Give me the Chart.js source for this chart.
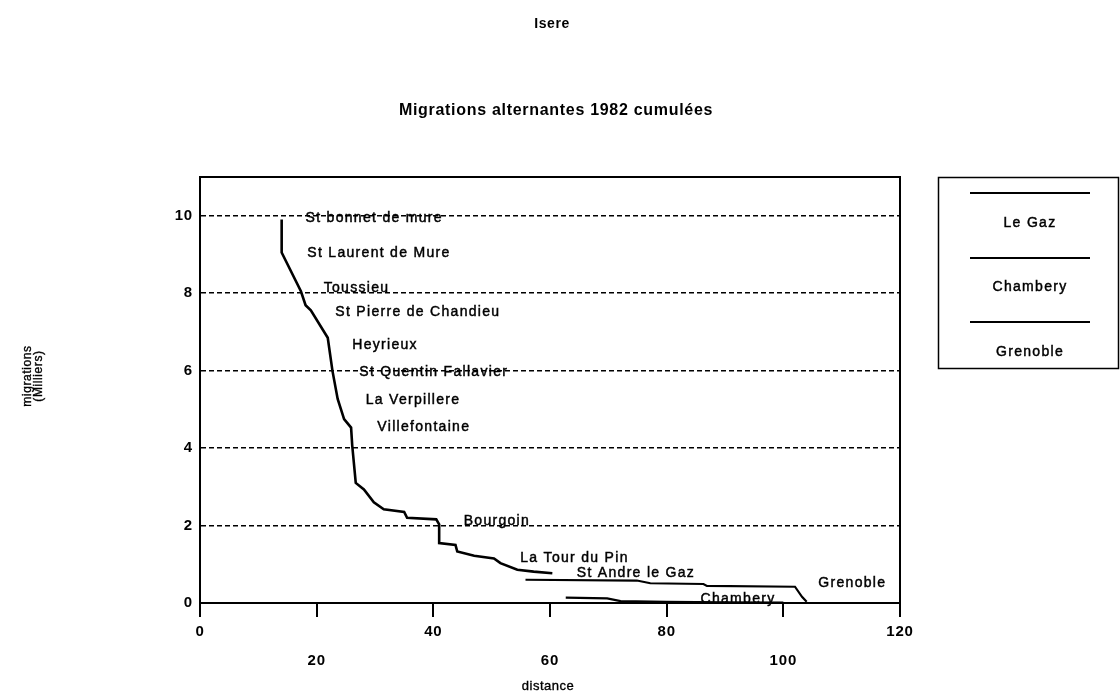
<!DOCTYPE html>
<html><head><meta charset="utf-8">
<script src="https://cdn.jsdelivr.net/npm/chart.js@4/dist/chart.umd.min.js"></script>
<style>html,body{margin:0;padding:0;background:#fff;}canvas{display:block;}</style>
</head><body>
<canvas id="c" width="1120" height="692"></canvas>
<script>
const chartTitle = 'Isere';
const chartSubtitle = 'Migrations alternantes 1982 cumulées';
const xAxisTitle = 'distance';
const yAxisTitle = ['migrations', '(Milliers)'];
const seriesNames = ['Le Gaz', 'Chambery', 'Grenoble'];

const xTicks = [0, 20, 40, 60, 80, 100, 120];
const yTicks = [0, 2, 4, 6, 8, 10];

const legazDistance   = [14.0, 14.0, 17.3, 18.1, 19.0, 21.9, 22.7, 23.6, 24.7, 25.9, 26.1, 26.7, 28.1, 29.8, 31.5, 35.0, 35.5, 40.5, 41.0, 41.0, 43.8, 44.1, 47.0, 50.4, 51.5, 54.4, 57.2, 60.4];
const legazMigrations = [9.9, 9.05, 8.05, 7.69, 7.56, 6.85, 6.0, 5.27, 4.75, 4.53, 4.06, 3.1, 2.93, 2.6, 2.42, 2.35, 2.2, 2.16, 2.03, 1.55, 1.5, 1.33, 1.22, 1.15, 1.03, 0.86, 0.81, 0.77];

const chamberyDistance   = [62.7, 69.8, 72.1, 80.0, 90.0, 100.0];
const chamberyMigrations = [0.14, 0.12, 0.05, 0.03, 0.02, 0.01];

const grenobleDistance   = [55.8, 74.9, 77.2, 86.3, 86.9, 102.0, 103.2, 104.0];
const grenobleMigrations = [0.6, 0.58, 0.51, 0.49, 0.44, 0.42, 0.16, 0.03];

const placeNames = ['St bonnet de mure', 'St Laurent de Mure', 'Toussieu', 'St Pierre de Chandieu', 'Heyrieux', 'St Quentin Fallavier', 'La Verpillere', 'Villefontaine', 'Bourgoin', 'La Tour du Pin', 'St Andre le Gaz', 'Grenoble', 'Chambery'];
const placeDistance   = [18.1, 18.4, 21.2, 23.2, 26.1, 27.3, 28.4, 30.4, 45.2, 54.9, 64.6, 106.0, 85.8];
const placeMigrations = [9.95, 9.04, 8.13, 7.52, 6.66, 5.97, 5.25, 4.54, 2.11, 1.16, 0.77, 0.51, 0.10];

const FONT = "'Liberation Sans', Arial, Helvetica, sans-serif";

function pts(xs, ys) { return xs.map((x, i) => ({ x: x, y: ys[i] })); }

function heavyText(ctx, s, x, y) {
  ctx.fillText(s, x, y);
  ctx.strokeText(s, x, y);
}

const decor = {
  id: 'decor',
  beforeDraw(chart) { chart.ctx.letterSpacing = '0.8px'; },
  afterDraw(chart) {
    const ctx = chart.ctx, a = chart.chartArea, xs = chart.scales.x, ys = chart.scales.y;
    ctx.save();
    ctx.strokeStyle = '#000';
    ctx.lineWidth = 2;
    ctx.beginPath();
    ctx.moveTo(a.left, a.top); ctx.lineTo(a.right, a.top); ctx.lineTo(a.right, a.bottom);
    ctx.stroke();

    ctx.fillStyle = '#000';
    ctx.font = '14px ' + FONT;
    ctx.letterSpacing = '1.3px';
    ctx.textAlign = 'left';
    ctx.textBaseline = 'middle';
    ctx.lineWidth = 0.45;
    placeNames.forEach((n, i) => {
      heavyText(ctx, n, xs.getPixelForValue(placeDistance[i]), ys.getPixelForValue(placeMigrations[i]));
    });

    ctx.textAlign = 'center';
    ctx.font = 'bold 14px ' + FONT;
    ctx.letterSpacing = '0.6px';
    ctx.fillText(chartTitle, 552, 24);
    ctx.font = 'bold 16px ' + FONT;
    ctx.letterSpacing = '0.7px';
    ctx.fillText(chartSubtitle, 556, 111);

    ctx.font = '13px ' + FONT;
    ctx.letterSpacing = '0.5px';
    ctx.lineWidth = 0.35;
    heavyText(ctx, xAxisTitle, 548, 686);
    ctx.font = '12px ' + FONT;
    ctx.letterSpacing = '0.6px';
    ctx.save();
    ctx.translate(28, 376);
    ctx.rotate(-Math.PI / 2);
    heavyText(ctx, yAxisTitle[0], 0, 0);
    heavyText(ctx, yAxisTitle[1], 0, 11);
    ctx.restore();

    // legend box
    ctx.lineWidth = 1.5;
    ctx.strokeRect(938.5, 177.5, 180, 191);
    const lineYs = [193, 258, 322], textYs = [223, 287, 352];
    ctx.font = '14px ' + FONT;
    ctx.letterSpacing = '1.3px';
    chart.data.datasets.forEach((ds, i) => {
      ctx.lineWidth = 2;
      ctx.beginPath(); ctx.moveTo(970, lineYs[i]); ctx.lineTo(1090, lineYs[i]); ctx.stroke();
      ctx.lineWidth = 0.45;
      heavyText(ctx, ds.label, 1030, textYs[i]);
    });
    ctx.restore();
    ctx.letterSpacing = '0px';
  }
};

new Chart(document.getElementById('c'), {
  type: 'scatter',
  data: {
    datasets: [
      { label: seriesNames[0], data: pts(legazDistance, legazMigrations), showLine: true, borderColor: '#000', borderWidth: 2.6, pointRadius: 0, tension: 0 },
      { label: seriesNames[1], data: pts(chamberyDistance, chamberyMigrations), showLine: true, borderColor: '#000', borderWidth: 2.2, pointRadius: 0, tension: 0 },
      { label: seriesNames[2], data: pts(grenobleDistance, grenobleMigrations), showLine: true, borderColor: '#000', borderWidth: 2.2, pointRadius: 0, tension: 0 }
    ]
  },
  options: {
    responsive: false,
    animation: false,
    layout: { padding: { left: 0, right: 220, top: 177, bottom: 0 } },
    plugins: { legend: { display: false }, tooltip: { enabled: false }, title: { display: false } },
    scales: {
      x: {
        type: 'linear', min: 0, max: 120,
        afterBuildTicks: s => { s.ticks = xTicks.map(v => ({ value: v })); },
        afterFit: s => { s.height = 89; },
        ticks: {
          color: '#000', padding: 0, maxRotation: 0, minRotation: 0, autoSkip: false,
          font: { family: FONT, size: 15, weight: 'bold', lineHeight: 1.93 },
          callback: (v, i) => (i % 2 ? ['', String(v)] : String(v))
        },
        grid: { drawOnChartArea: false, drawTicks: true, tickLength: 14, color: '#000', lineWidth: 2 },
        border: { display: true, color: '#000', width: 2 }
      },
      y: {
        type: 'linear', min: 0, max: 11,
        afterBuildTicks: s => { s.ticks = yTicks.map(v => ({ value: v })); },
        afterFit: s => { s.width = 200; },
        ticks: { color: '#000', padding: 7, font: { family: FONT, size: 15, weight: 'bold' } },
        grid: {
          drawTicks: false, lineWidth: 1.5,
          color: c => (c.tick && c.tick.value === 0 ? 'rgba(0,0,0,0)' : '#000')
        },
        border: { display: true, color: '#000', width: 2, dash: [5, 3] }
      }
    }
  },
  plugins: [decor]
});
</script>
</body></html>
